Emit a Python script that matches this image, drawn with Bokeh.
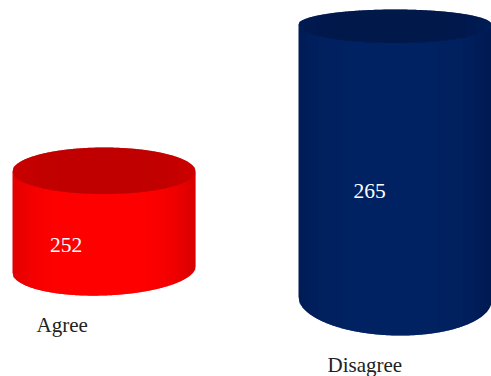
import numpy as np
from bokeh.core.properties import value
from bokeh.embed import file_html
from bokeh.models import Range1d
from bokeh.plotting import figure
from bokeh.resources import INLINE

# Survey answers and the count shown on each cylinder
categories = ["Agree", "Disagree"]
counts = [252, 265]

WIDTH, HEIGHT = 491, 376
PX_PER_COUNT = 147 / 13          # vertical scale of the truncated count axis
TOP_PX_FOR_FIRST = 171           # screen row of the first cylinder's lid centre

y_low = counts[0] - (HEIGHT - TOP_PX_FOR_FIRST) / PX_PER_COUNT
y_high = counts[0] + TOP_PX_FOR_FIRST / PX_PER_COUNT


def px_to_y(py):
    return y_low + (HEIGHT - np.asarray(py, dtype=float)) / PX_PER_COUNT


def value_to_px(v):
    return HEIGHT - (v - y_low) * PX_PER_COUNT


def hexes(rgb):
    return ["#%02x%02x%02x" % tuple(int(round(c)) for c in row) for row in rgb]


def shade(t, edge, mid):
    # t runs 0..1 across the cylinder; strongest colour a little left of centre
    k = np.clip(1 - np.abs(2 * t - 0.95) ** 4, 0, 1)[:, None]
    return np.array(edge)[None, :] * (1 - k) + np.array(mid)[None, :] * k


def strips(p, xs, upper, lower, colors):
    # Thin trapezoids, each slightly overlapping its neighbour to hide seams
    px, py = [], []
    for i in range(len(xs) - 1):
        x0, x1 = xs[i], min(xs[i + 1] + 0.7, xs[-1])
        frac = (x1 - xs[i]) / (xs[i + 1] - xs[i])
        u1 = upper[i] + (upper[i + 1] - upper[i]) * frac
        l1 = lower[i] + (lower[i + 1] - lower[i]) * frac
        px.append([x0, x1, x1, x0])
        py.append(list(px_to_y([upper[i], u1, l1, lower[i]])))
    p.patches(px, py, fill_color=colors[: len(px)], line_color=None)


def cylinder(p, v, left, right, base_left, base_right, base_drop,
             ry_back, ry_front, body_edge, body_mid, lid_edge, lid_mid):
    cy = value_to_px(v)
    cx = (left + right) / 2
    rx = (right - left) / 2
    xs = np.linspace(left, right, int(right - left) + 1)
    u = np.clip((xs - cx) / rx, -1, 1)
    arc = np.sqrt(1 - u ** 2)
    t = (xs - left) / (right - left)
    base = base_left + (base_right - base_left) * t + base_drop * arc
    strips(p, xs, cy + ry_front * arc, base, hexes(shade(t, body_edge, body_mid)))
    strips(p, xs, cy - ry_back * arc, cy + ry_front * arc + 0.5,
           hexes(shade(t, lid_edge, lid_mid)))


p = figure(width=WIDTH, height=HEIGHT, output_backend="svg", toolbar_location=None,
           x_range=Range1d(0, WIDTH), y_range=Range1d(y_low, y_high),
           min_border=0, outline_line_color=None, background_fill_color="white",
           border_fill_color="white")
p.axis.visible = False
p.grid.visible = False

cylinder(p, counts[0], 12, 195, 272, 266, 26, 24, 22,
         (218, 0, 0), (255, 0, 0), (204, 0, 0), (192, 0, 0))
cylinder(p, counts[1], 298, 491, 296, 300, 37, 15, 18,
         (0, 26, 84), (0, 34, 98), (0, 28, 86), (0, 24, 74))

serif = value("Liberation Serif")
p.text([65.5], px_to_y([244]), text=[str(counts[0])], text_color="white", text_font=serif,
       text_font_size="21.5px", text_align="center", text_baseline="alphabetic")
p.text([369], px_to_y([190]), text=[str(counts[1])], text_color="white", text_font=serif,
       text_font_size="21.5px", text_align="center", text_baseline="alphabetic")
p.text([36], px_to_y([324]), text=[categories[0]], text_color="#222222", text_font=serif,
       text_font_size="21px", text_align="left", text_baseline="alphabetic")
p.text([327], px_to_y([364]), text=[categories[1]], text_color="#222222", text_font=serif,
       text_font_size="21px", text_align="left", text_baseline="alphabetic")

open("out.html", "w").write(file_html(p, INLINE))
